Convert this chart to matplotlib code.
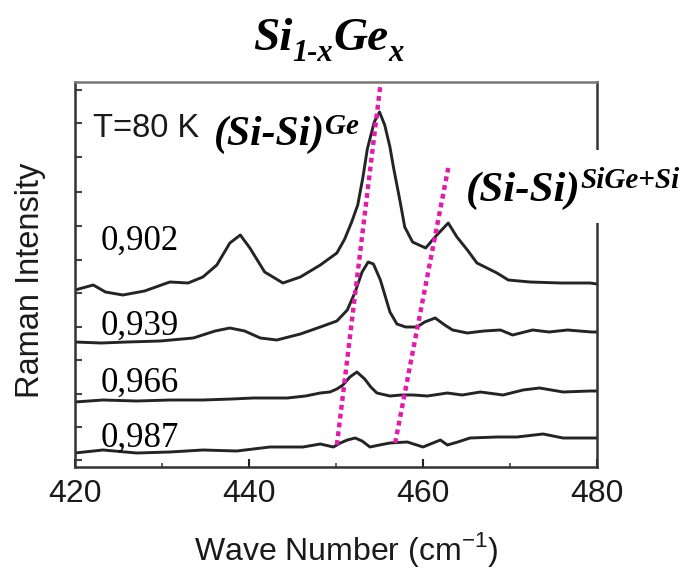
import numpy as np
import matplotlib
matplotlib.use('Agg')
import matplotlib.pyplot as plt
from matplotlib.patches import Rectangle

W, H = 691, 571

# ---------------- data ----------------
wn_902 = [420.0, 422.1, 423.5, 425.5, 428.0, 430.9, 433.0, 434.7, 436.3, 437.8, 439.0, 440.1,
          441.8, 443.9, 445.9, 448.2, 450.1, 451.0, 451.8, 452.5, 453.1, 453.6, 454.4, 455.0,
          455.6, 456.2, 456.6, 457.4, 457.9, 458.8, 460.3, 461.6, 462.9, 463.9, 465.1, 466.2,
          468.5, 469.8, 472.3, 475.8, 479.2, 480.0]
int_902 = [177, 182, 175, 172, 176, 185, 184, 190, 202, 224, 232, 219,
           195, 184, 190, 202, 214, 228, 245, 262, 290, 318, 345, 355,
           342, 320, 300, 264, 240, 225, 219, 232, 244, 230, 217, 204,
           194, 187, 185, 184, 184, 183]

wn_939 = [420.0, 423.0, 426.0, 429.8, 433.6, 436.1, 437.8, 439.5, 441.3, 443.2, 445.9, 448.2,
          450.1, 451.3, 452.2, 453.0, 453.7, 454.3, 455.1, 456.2, 457.0, 458.0, 459.3, 460.2,
          461.4, 462.5, 463.4, 465.1, 467.0, 468.9, 470.3, 472.6, 474.5, 476.6, 479.4, 480.0]
int_939 = [125, 124, 125, 126, 129, 136, 139, 136, 129, 127, 133, 140,
           146, 157, 175, 195, 205, 203, 187, 155, 143, 140, 140, 145,
           149, 142, 137, 134, 136, 137, 132, 137, 135, 137, 135, 135]

wn_966 = [420.0, 423.2, 427.1, 431.0, 434.7, 438.0, 440.5, 444.4, 446.5, 448.2, 449.3, 450.1,
          450.8, 451.6, 452.4, 453.3, 454.0, 454.7, 456.2, 457.5, 458.9, 460.5, 462.8, 464.5,
          466.6, 469.2, 471.5, 473.4, 476.1, 479.2, 480.0]
int_966 = [65, 67, 66, 67, 67, 68, 69, 69, 71, 74, 75, 78,
           82, 90, 95, 88, 80, 74, 71, 72, 72, 71, 74, 72,
           75, 72, 77, 79, 75, 76, 76]

wn_987 = [420.0, 423.2, 427.1, 430.9, 434.7, 438.6, 442.4, 446.2, 448.2, 449.7, 450.5, 451.3,
          452.2, 453.0, 453.9, 455.0, 456.2, 458.2, 460.0, 462.0, 462.8, 464.0, 465.4, 468.5,
          470.8, 473.8, 476.1, 479.2, 480.0]
int_987 = [14, 17, 14, 15, 17, 16, 20, 20, 23, 20, 24, 27,
           29, 26, 20, 22, 24, 25, 20, 27, 22, 25, 29, 30,
           30, 33, 29, 29, 29]

series_labels = ['0,902', '0,939', '0,966', '0,987']

guide_ge_x = [450.1, 455.1]
guide_ge_y = [22, 382]
guide_sige_x = [456.8, 462.9]
guide_sige_y = [24, 299]

xticks = [420, 440, 460, 480]
xticks_minor = [430, 450, 470]
yticks = [7, 40, 73, 107, 140, 174, 207, 241, 275, 310, 344, 377]

# ---------------- figure ----------------
fig = plt.figure(figsize=(W / 100, H / 100), dpi=100)
ax = fig.add_axes([75 / W, 1 - 467 / H, (597 - 75) / W, (467 - 82) / H])

line_kw = dict(color='#242424', lw=2.1, solid_joinstyle='round', solid_capstyle='round')
for wn, it in [(wn_902, int_902), (wn_939, int_939), (wn_966, int_966), (wn_987, int_987)]:
    ax.plot(wn, it, **line_kw)

pink = '#E41BAA'
for gx, gy in [(guide_ge_x, guide_ge_y), (guide_sige_x, guide_sige_y)]:
    ax.plot(gx, gy, color=pink, lw=3.2, linestyle=(0, (1.1, 0.9)), dash_capstyle='butt',
            zorder=4)

ax.set_xlim(420, 480)
ax.set_ylim(0, 385)
ax.set_xticks(xticks)
ax.set_xticks(xticks_minor, minor=True)
ax.set_xticklabels([str(v) for v in xticks], fontsize=23, family='Liberation Sans', color='#1a1a1a')
ax.set_yticks(yticks)
ax.set_yticklabels([])
ax.tick_params(axis='x', which='major', direction='in', length=6, width=1.5, pad=9, color='#222')
ax.tick_params(axis='x', which='minor', direction='in', length=3, width=1.2, color='#444')
ax.tick_params(axis='y', which='major', direction='in', length=5, width=1.5, color='#444')
for s in ax.spines.values():
    s.set_linewidth(1.8)
    s.set_color('#333333')
ax.spines['top'].set_color('#777777')

# axis labels
fig.text(31 / W, 1 - 280 / H, 'Raman Intensity', rotation=90, ha='center', va='center',
         fontsize=23.5, family='Liberation Sans', color='#1a1a1a')
fig.text(346 / W, 1 - 560 / H, r'Wave Number (cm$^{\mathregular{-1}}$)', ha='center',
         va='baseline', fontsize=23, family='Liberation Sans', color='#1a1a1a')

# T=80 K
fig.text(93 / W, 1 - 137 / H, 'T=80 K', ha='left', va='baseline', fontsize=23.5,
         family='Liberation Sans', color='#1a1a1a')

# series labels
for lab, base in zip(series_labels, [250, 335, 392, 447]):
    fig.text(101 / W, 1 - base / H, lab, ha='left', va='baseline', fontsize=25,
             family='Liberation Serif', color='black')

# white box under the right label
fig.add_artist(Rectangle((456 / W, 1 - 223 / H), (W - 456) / W, 73 / H,
                         transform=fig.transFigure, facecolor='white', edgecolor='none',
                         zorder=5))

renderer = fig.canvas.get_renderer()


def chain(pieces, x, y):
    for s, size, dy in pieces:
        t = fig.text(x / W, 1 - (y + dy) / H, s, fontsize=size, family='Liberation Serif',
                     weight='bold', style='italic', ha='left', va='baseline', zorder=6)
        bb = t.get_window_extent(renderer=renderer)
        x = bb.x1


chain([('Si', 34, 0), ('1-x', 22, 11), ('Ge', 34, 0), ('x', 22, 11)], 253, 50)
chain([('(Si-Si)', 30, 0), ('Ge', 21, -11)], 214, 145)
chain([('(Si-Si)', 31, 0), ('SiGe+Si', 21, -13)], 466, 201)

fig.savefig('out.png', dpi=100)
